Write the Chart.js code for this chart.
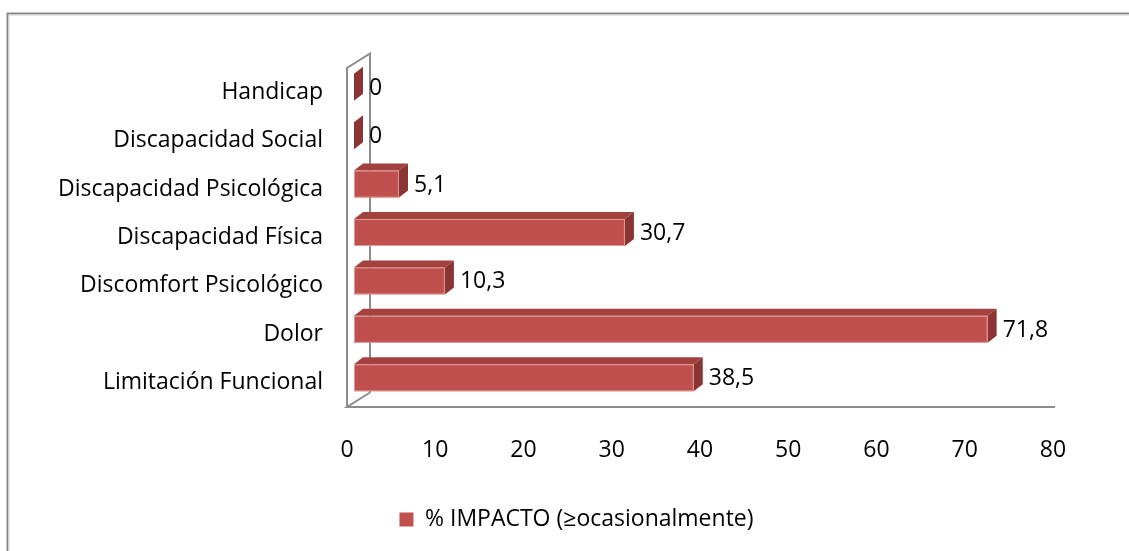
<!DOCTYPE html>
<html>
<head>
<meta charset="utf-8">
<script src="https://cdn.jsdelivr.net/npm/chart.js@4.4.1/dist/chart.umd.min.js"></script>
<style>
  html, body { margin: 0; padding: 0; background: #fff; }
  #wrap { width: 1129px; height: 551px; }
</style>
</head>
<body>
<div id="wrap"><canvas id="impactChart"></canvas></div>
<script>
const categories = [
  "Handicap",
  "Discapacidad Social",
  "Discapacidad Psicológica",
  "Discapacidad Física",
  "Discomfort Psicológico",
  "Dolor",
  "Limitación Funcional"
];
const impacto = [0, 0, 5.1, 30.7, 10.3, 71.8, 38.5];
const xTicks = [0, 10, 20, 30, 40, 50, 60, 70, 80];
const seriesName = "% IMPACTO (≥ocasionalmente)";

const FONT = "'Open Sans'";
const FONT_SIZE = 23;
const frontColor = "#C0504D";
const topColor = "#A2413E";
const sideColor = "#8A3533";
const wallColor = "#8C8C8C";

// depth of the walls and of each bar (pixels)
const wall = { dx: 23, dy: -14.5 };
const bar = { ox: 7, oy: -5, h: 27, dx: 9, dy: -7 };

const frame = {
  id: "frame",
  beforeDraw(chart) {
    const { ctx, width, height } = chart;
    ctx.save();
    ctx.strokeStyle = "#878787";
    ctx.lineWidth = 2;
    ctx.beginPath();
    ctx.moveTo(width, 13.5);
    ctx.lineTo(7.5, 13.5);
    ctx.lineTo(7.5, height);
    ctx.stroke();
    ctx.strokeStyle = "#d4d4d4";
    ctx.lineWidth = 1;
    ctx.beginPath();
    ctx.moveTo(width, 15);
    ctx.lineTo(9, 15);
    ctx.lineTo(9, height);
    ctx.stroke();
    ctx.restore();
  }
};

// legend sits a little right of the centre of the canvas
const legendShift = {
  id: "legendShift",
  afterLayout(chart) {
    const lg = chart.legend;
    if (!lg) return;
    lg.left += 30;
    lg.right += 30;
  }
};

const bars3d = {
  id: "bars3d",
  beforeDatasetsDraw(chart) {
    const { ctx, chartArea } = chart;
    const xs = chart.scales.x;
    const x0 = xs.getPixelForValue(0);
    const x1 = xs.getPixelForValue(80);
    const yb = chartArea.bottom;
    const yt = chartArea.top;

    ctx.save();
    // walls and floor
    ctx.strokeStyle = wallColor;
    ctx.lineWidth = 2;
    ctx.beginPath();
    ctx.moveTo(x1 + 2, yb);
    ctx.lineTo(x0, yb);
    ctx.lineTo(x0 + wall.dx, yb + wall.dy);
    ctx.moveTo(x0, yb);
    ctx.lineTo(x0, yt);
    ctx.lineTo(x0 + wall.dx, yt + wall.dy);
    ctx.lineTo(x0 + wall.dx, yb + wall.dy);
    ctx.stroke();

    const meta = chart.getDatasetMeta(0);
    meta.data.forEach((el, i) => {
      const v = impacto[i];
      const xa = x0 + bar.ox;
      const xe = xs.getPixelForValue(v) + bar.ox;
      const yc = el.y + bar.oy;
      const top = yc - bar.h / 2;
      const bot = yc + bar.h / 2;

      // top face
      ctx.fillStyle = topColor;
      ctx.beginPath();
      ctx.moveTo(xa, top);
      ctx.lineTo(xa + bar.dx, top + bar.dy);
      ctx.lineTo(xe + bar.dx, top + bar.dy);
      ctx.lineTo(xe, top);
      ctx.closePath();
      ctx.fill();

      // side face
      ctx.fillStyle = sideColor;
      ctx.beginPath();
      ctx.moveTo(xe, top);
      ctx.lineTo(xe + bar.dx, top + bar.dy);
      ctx.lineTo(xe + bar.dx, bot + bar.dy);
      ctx.lineTo(xe, bot);
      ctx.closePath();
      ctx.fill();

      // front face
      if (xe > xa) {
        ctx.fillStyle = frontColor;
        ctx.fillRect(xa, top, xe - xa, bar.h);
        ctx.strokeStyle = "rgba(230,170,168,0.8)";
        ctx.lineWidth = 1;
        ctx.strokeRect(xa + 0.5, top + 0.5, xe - xa - 1, bar.h - 1);
      }

      // value label
      ctx.fillStyle = "#000";
      ctx.font = FONT_SIZE + "px " + FONT;
      ctx.textAlign = "left";
      ctx.textBaseline = "middle";
      ctx.fillText(String(v).replace(".", ","), xe + bar.dx + 6, yc + 1);
    });
    ctx.restore();
    return false;
  }
};

new Chart(document.getElementById("impactChart"), {
  type: "bar",
  data: {
    labels: categories,
    datasets: [{
      label: seriesName,
      data: impacto,
      backgroundColor: frontColor
    }]
  },
  options: {
    indexAxis: "y",
    responsive: true,
    maintainAspectRatio: false,
    animation: false,
    layout: { padding: { left: 40, right: 76, top: 68, bottom: 10 } },
    scales: {
      x: {
        min: 0,
        max: 80,
        afterBuildTicks: (s) => { s.ticks = xTicks.map(v => ({ value: v })); },
        afterFit: (s) => { s.height = 93; },
        grid: { display: false },
        border: { display: false },
        ticks: { color: "#000", font: { family: FONT, size: FONT_SIZE }, padding: 22 }
      },
      y: {
        afterFit: (s) => { s.width = 307; },
        grid: { display: false },
        border: { display: false },
        ticks: { color: "#000", font: { family: FONT, size: FONT_SIZE }, padding: 16 }
      }
    },
    plugins: {
      legend: {
        position: "bottom",
        labels: {
          color: "#000",
          boxWidth: 14,
          boxHeight: 14,
          padding: 8,
          font: { family: FONT, size: FONT_SIZE }
        }
      },
      tooltip: { enabled: false }
    }
  },
  plugins: [frame, legendShift, bars3d]
});
</script>
</body>
</html>
